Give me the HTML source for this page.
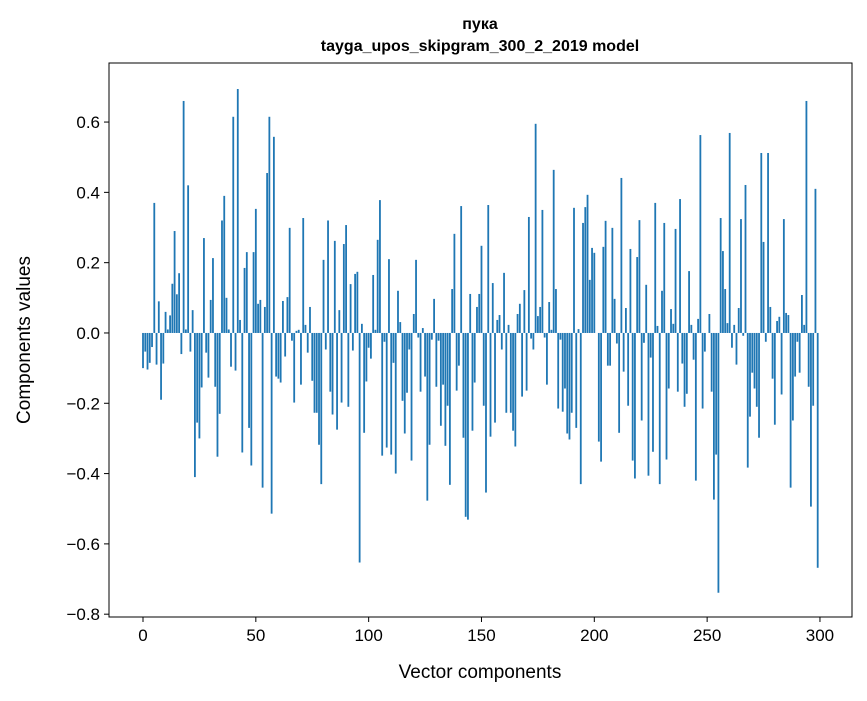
<!DOCTYPE html>
<html><head><meta charset="utf-8"><style>
body{margin:0;background:#fff;}
svg text{font-family:"Liberation Sans","DejaVu Sans",sans-serif;fill:#000;}
</style></head><body>
<svg id="chart" width="867" height="696" viewBox="0 0 867 696" xmlns="http://www.w3.org/2000/svg">
<rect width="867" height="696" fill="#fff"/>
<text x="480" y="29" text-anchor="middle" font-size="16" font-weight="bold">пука</text>
<text x="480" y="51" text-anchor="middle" font-size="16" font-weight="bold">tayga_upos_skipgram_300_2_2019 model</text>
<g id="bars"></g>
<g id="axes"></g>
<text x="480" y="678" text-anchor="middle" font-size="19">Vector components</text>
<text transform="translate(30,340) rotate(-90)" text-anchor="middle" font-size="19">Components values</text>
</svg>
<script>
const values = [
-0.10,-0.053,-0.104,-0.085,-0.04,0.37,-0.09,0.09,-0.19,-0.087,
0.06,0.01,0.05,0.14,0.29,0.11,0.17,-0.06,0.66,0.01,
0.42,-0.053,0.065,-0.41,-0.255,-0.30,-0.155,0.27,-0.056,-0.127,
0.094,0.213,-0.153,-0.352,-0.23,0.32,0.39,0.10,0.01,-0.096,
0.615,-0.107,0.694,0.037,-0.34,0.185,0.23,-0.27,-0.377,0.23,
0.353,0.083,0.094,-0.44,0.074,0.455,0.615,-0.514,0.558,-0.124,
-0.13,-0.141,0.091,-0.067,0.102,0.299,-0.022,-0.198,0.006,0.009,
-0.147,0.327,0.023,-0.056,0.074,-0.136,-0.227,-0.227,-0.318,-0.43,
0.208,-0.047,0.32,-0.167,-0.232,0.262,-0.275,0.065,-0.198,0.253,
0.307,-0.21,0.139,-0.05,0.168,0.174,-0.653,0.026,-0.284,-0.138,
-0.042,-0.073,0.165,0.009,0.265,0.378,-0.349,-0.025,-0.326,0.21,
-0.346,-0.085,-0.40,0.12,0.031,-0.193,-0.286,-0.17,-0.047,-0.363,
0.054,0.208,-0.013,-0.167,0.014,-0.124,-0.477,-0.318,-0.019,0.097,
-0.153,-0.022,-0.264,-0.147,-0.321,-0.207,-0.432,0.125,0.282,-0.164,
-0.093,0.361,-0.298,-0.523,-0.531,0.111,-0.278,-0.141,0.074,0.111,
0.248,-0.207,-0.454,0.364,-0.295,0.142,-0.255,0.037,0.051,-0.047,
0.171,-0.227,0.023,-0.227,-0.278,-0.323,0.054,0.083,-0.181,0.122,
-0.164,0.33,-0.016,-0.047,0.595,0.048,0.074,0.35,-0.013,-0.147,
0.088,0.009,0.464,0.125,-0.215,-0.019,-0.224,-0.158,-0.286,-0.303,
-0.227,0.356,-0.27,0.011,-0.43,0.313,0.358,0.393,0.151,0.242,
0.228,0.0,-0.309,-0.366,0.245,0.319,-0.093,-0.093,0.299,0.097,
-0.03,-0.284,0.441,-0.11,0.071,-0.207,0.239,-0.363,-0.414,0.216,
0.321,-0.249,-0.028,0.137,-0.406,-0.07,-0.338,0.37,0.02,-0.43,
0.12,0.313,-0.36,-0.158,0.068,0.026,0.296,-0.167,0.381,-0.087,
-0.21,-0.173,0.176,0.023,-0.076,-0.42,0.04,0.563,-0.215,-0.053,
0.0,0.054,-0.167,-0.474,-0.346,-0.739,0.327,0.233,0.125,0.028,
0.569,-0.042,0.023,-0.09,0.071,0.324,-0.008,0.421,-0.383,-0.238,
-0.113,-0.158,-0.21,-0.298,0.512,0.259,-0.025,0.512,0.074,-0.13,
-0.261,0.034,0.046,-0.175,0.324,0.057,0.051,-0.44,-0.249,-0.124,
-0.025,-0.113,0.108,0.023,0.66,-0.153,-0.494,-0.207,0.41,-0.668
];
const xTicks = [0,50,100,150,200,250,300];
const yTicks = [-0.8,-0.6,-0.4,-0.2,0.0,0.2,0.4,0.6];
const yTickLabels = ["\u22120.8","\u22120.6","\u22120.4","\u22120.2","0.0","0.2","0.4","0.6"];

const L=109,R=852,T=63,B=617;
const xMin=-15.07,xMax=314.2,yMin=-0.808,yMax=0.768;
function xs(v){return L+(v-xMin)/(xMax-xMin)*(R-L);}
function ys(v){return B-(v-yMin)/(yMax-yMin)*(B-T);}
const NS="http://www.w3.org/2000/svg";
const bars=document.getElementById('bars');
const bw=0.8*(xs(1)-xs(0));
values.forEach((v,i)=>{
  const r=document.createElementNS(NS,'rect');
  const y0=ys(0),y1=ys(v);
  r.setAttribute('x',xs(i)-bw/2);
  r.setAttribute('y',Math.min(y0,y1));
  r.setAttribute('width',bw);
  r.setAttribute('height',Math.max(Math.abs(y1-y0),0.01));
  r.setAttribute('fill','#1f77b4');
  
  
  bars.appendChild(r);
});
const ax=document.getElementById('axes');
const frame=document.createElementNS(NS,'rect');
frame.setAttribute('x',L);frame.setAttribute('y',T);
frame.setAttribute('width',R-L);frame.setAttribute('height',B-T);
frame.setAttribute('fill','none');frame.setAttribute('stroke','#000');frame.setAttribute('stroke-width','1');


ax.appendChild(frame);
xTicks.forEach(t=>{
  const x=xs(t);
  const l=document.createElementNS(NS,'line');
  l.setAttribute('x1',x);l.setAttribute('x2',x);l.setAttribute('y1',B);l.setAttribute('y2',B+5);
  l.setAttribute('stroke','#000');
  
  
  ax.appendChild(l);
  const tx=document.createElementNS(NS,'text');
  tx.setAttribute('x',x);tx.setAttribute('y',B+24);tx.setAttribute('text-anchor','middle');tx.setAttribute('font-size','17');
  tx.textContent=t;
  
  
  ax.appendChild(tx);
});
yTicks.forEach((t,k)=>{
  const y=ys(t);
  const l=document.createElementNS(NS,'line');
  l.setAttribute('x1',L-5);l.setAttribute('x2',L);l.setAttribute('y1',y);l.setAttribute('y2',y);
  l.setAttribute('stroke','#000');
  
  
  ax.appendChild(l);
  const tx=document.createElementNS(NS,'text');
  tx.setAttribute('x',L-9);tx.setAttribute('y',y+6);tx.setAttribute('text-anchor','end');tx.setAttribute('font-size','17');
  tx.textContent=yTickLabels[k];
  
  
  ax.appendChild(tx);
});
</script>
</body></html>
